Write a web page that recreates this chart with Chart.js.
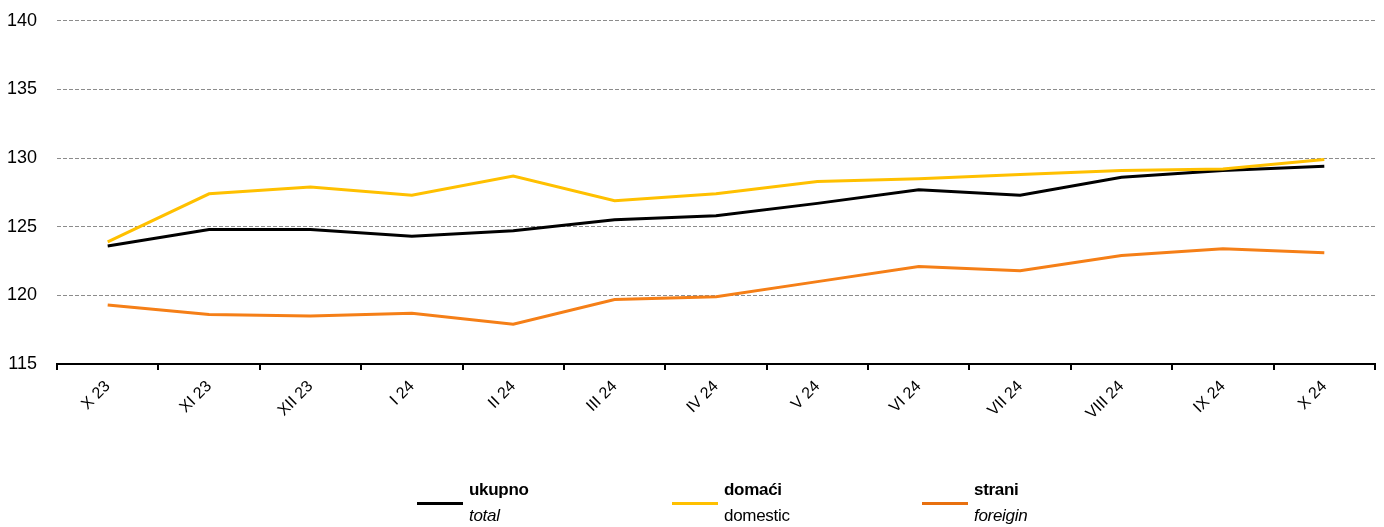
<!DOCTYPE html>
<html>
<head>
<meta charset="utf-8">
<script src="https://cdn.jsdelivr.net/npm/chart.js@4.4.1/dist/chart.umd.min.js"></script>
<style>
  html,body{margin:0;padding:0;background:#fff;}
  #wrap{position:relative;width:1384px;height:527px;overflow:hidden;font-family:"Liberation Sans",Arial,sans-serif;}
  canvas{position:absolute;left:0;top:-10px;}
  .lg{position:absolute;top:480px;}
  .lg .ln{position:absolute;left:0;top:22px;width:46px;height:3px;}
  .lg .t1{position:absolute;left:52px;top:0;font-weight:bold;font-size:17px;color:#000;white-space:nowrap;letter-spacing:-0.3px;}
  .lg .t2{position:absolute;left:52px;top:26px;font-size:17px;color:#000;white-space:nowrap;letter-spacing:-0.3px;}
</style>
</head>
<body>
<div id="wrap">
  <canvas id="c" width="1384" height="537"></canvas>
  <div class="lg" style="left:417px;"><div class="ln" style="background:#000;"></div><div class="t1">ukupno</div><div class="t2" style="font-style:italic;">total</div></div>
  <div class="lg" style="left:672px;"><div class="ln" style="background:#ffc000;"></div><div class="t1">domaći</div><div class="t2">domestic</div></div>
  <div class="lg" style="left:922px;"><div class="ln" style="background:#e8700f;"></div><div class="t1">strani</div><div class="t2" style="font-style:italic;">foreigin</div></div>
</div>
<script>
const categories = ["X 23","XI 23","XII 23","I 24","II 24","III 24","IV 24","V 24","VI 24","VII 24","VIII 24","IX 24","X 24"];
const ukupno = [123.6,124.8,124.8,124.3,124.7,125.5,125.8,126.7,127.7,127.3,128.6,129.1,129.4];
const domaci = [123.9,127.4,127.9,127.3,128.7,126.9,127.4,128.3,128.5,128.8,129.1,129.2,129.9];
const strani = [119.3,118.6,118.5,118.7,117.9,119.7,119.9,121.0,122.1,121.8,122.9,123.4,123.1];
const yMin = 115, yMax = 140, yStep = 5;

const ds = (label, data, color) => ({label, data, borderColor: color, backgroundColor: color, borderWidth: 3, pointRadius: 0, tension: 0, fill: false});

new Chart(document.getElementById('c'), {
  type: 'line',
  data: {
    labels: categories,
    datasets: [
      ds('strani', strani, '#f57f17'),
      ds('domaći', domaci, '#ffc000'),
      ds('ukupno', ukupno, '#000000')
    ]
  },
  options: {
    responsive: false,
    animation: false,
    layout: {padding: {top: 0, right: 9, left: 0, bottom: 0}},
    plugins: {legend: {display: false}, tooltip: {enabled: false}},
    scales: {
      x: {
        offset: true,
        grid: {display: true, drawOnChartArea: false, drawTicks: true, tickLength: 6, color: '#000', lineWidth: 2, offset: true},
        border: {display: true, color: '#000', width: 2},
        ticks: {color: '#000', font: {family: 'Liberation Sans', size: 16}, minRotation: 45, maxRotation: 45, padding: 7},
        afterFit: s => { s.height = 163; }
      },
      y: {
        min: yMin, max: yMax,
        grid: {color: '#8c8c8c', lineWidth: 1, drawTicks: false},
        border: {display: false, dash: [4, 2]},
        ticks: {stepSize: yStep, color: '#000', font: {family: 'Liberation Sans', size: 18}, padding: 20},
        afterFit: s => { s.width = 57; }
      }
    }
  }
});
</script>
</body>
</html>
